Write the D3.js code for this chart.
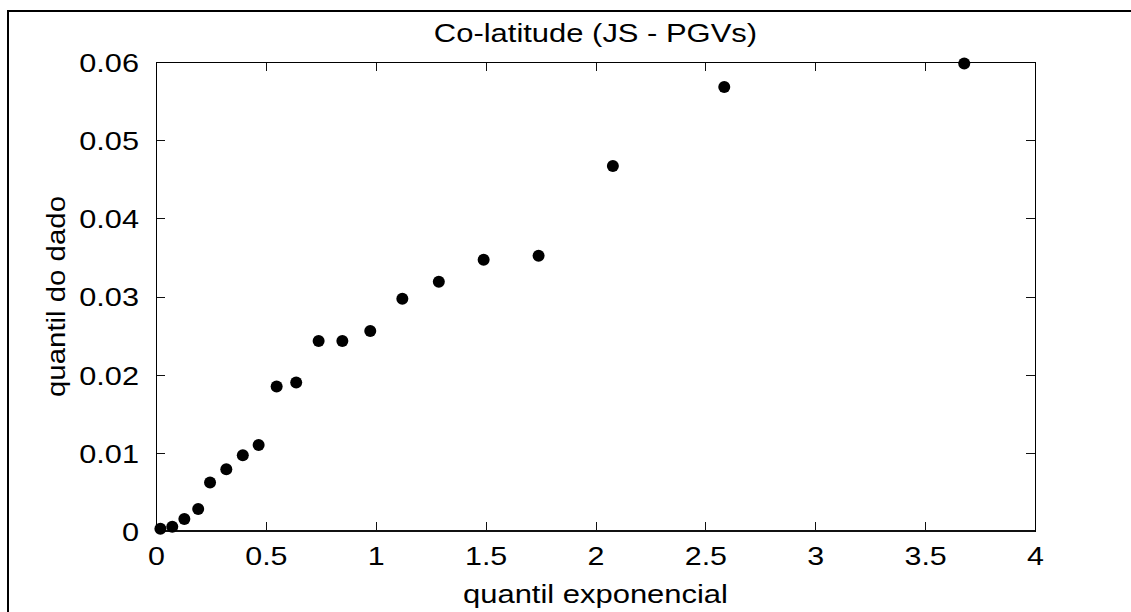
<!DOCTYPE html>
<html>
<head>
<meta charset="utf-8">
<script src="https://cdn.jsdelivr.net/npm/d3@7"></script>
<style>
  body { margin: 0; background: #fff; }
  svg { display: block; }
  text { font-family: "Liberation Sans", Arial, Helvetica, sans-serif; fill: #000; }
  .axis path { display: none; }
  .axis line { stroke: #111; shape-rendering: crispEdges; }
</style>
</head>
<body>
<svg class="chart"></svg>
<script>
// exponential quantile (x) vs data quantile (y)
var qExp = [0.020, 0.074, 0.129, 0.192, 0.246, 0.320, 0.395, 0.467, 0.549, 0.638,
            0.740, 0.848, 0.975, 1.121, 1.287, 1.491, 1.741, 2.079, 2.586, 3.678];
var qData = [0.0003, 0.00055, 0.00154, 0.0028, 0.0062, 0.0079, 0.0097, 0.0110, 0.0185, 0.0190,
             0.0243, 0.0243, 0.0256, 0.0297, 0.0319, 0.0347, 0.0352, 0.0467, 0.0568, 0.0598];
var xTicks = [0, 0.5, 1, 1.5, 2, 2.5, 3, 3.5, 4];
var yTicks = [0, 0.01, 0.02, 0.03, 0.04, 0.05, 0.06];

var W = 1131, H = 612;
var margin = { top: 62, left: 156, right: 96, bottom: 81 },
    width = W - margin.left - margin.right,
    height = H - margin.top - margin.bottom;

var svg = d3.select(".chart").attr("width", W).attr("height", H);

// figure frame (runs off the right and bottom edge)
svg.append("rect")
    .attr("x", 8).attr("y", 11)
    .attr("width", W + 20).attr("height", H + 20)
    .attr("fill", "none").attr("stroke", "#000").attr("stroke-width", 2);

var g = svg.append("g").attr("transform", "translate(" + margin.left + "," + margin.top + ")");

var x = d3.scaleLinear().domain([0, 4]).range([0, width]);
var y = d3.scaleLinear().domain([0, 0.06]).range([height, 0]);

var tick = 9;

// bottom / left with labels, top / right ticks only
var xb = g.append("g").attr("class", "axis")
    .attr("transform", "translate(0," + height + ")")
    .call(d3.axisBottom(x).tickValues(xTicks).tickSize(-tick).tickPadding(16).tickFormat(d3.format("")));
g.append("g").attr("class", "axis")
    .call(d3.axisTop(x).tickValues(xTicks).tickSize(-tick).tickFormat(""));
var yl = g.append("g").attr("class", "axis")
    .call(d3.axisLeft(y).tickValues(yTicks).tickSize(-tick).tickPadding(17).tickFormat(d3.format("")));
g.append("g").attr("class", "axis")
    .attr("transform", "translate(" + width + ",0)")
    .call(d3.axisRight(y).tickValues(yTicks).tickSize(-tick).tickFormat(""));

xb.selectAll("text").style("font-size", "26px").attr("dy", "0.71em");
yl.selectAll("text").style("font-size", "26px").attr("dy", "0.36em");

// axes box
g.append("rect")
    .attr("width", width).attr("height", height)
    .attr("fill", "none").attr("stroke", "#000").attr("stroke-width", 1)
    .attr("shape-rendering", "crispEdges");
g.append("line")
    .attr("x1", 0).attr("x2", width).attr("y1", height).attr("y2", height)
    .attr("stroke", "#111").attr("stroke-width", 2);

// points
g.selectAll("circle.pt").data(qExp)
  .enter().append("circle")
    .attr("class", "pt")
    .attr("cx", d => x(d))
    .attr("cy", (d, i) => y(qData[i]))
    .attr("r", 6)
    .attr("fill", "#000");

// titles
var title = svg.append("text")
    .attr("x", margin.left + width / 2).attr("y", 42)
    .attr("text-anchor", "middle").style("font-size", "26px")
    .text("Co-latitude (JS - PGVs)");

var xlab = svg.append("text")
    .attr("x", margin.left + width / 2).attr("y", 603)
    .attr("text-anchor", "middle").style("font-size", "26px")
    .text("quantil exponencial");

var ylab = svg.append("text")
    .attr("transform", "translate(65," + (margin.top + height / 2) + ") rotate(-90)")
    .attr("text-anchor", "middle").style("font-size", "26px")
    .text("quantil do dado");

// the original rendering spreads glyphs wider than the font metrics
function stretch(sel, f) {
    sel.each(function () {
        var len = this.getComputedTextLength();
        d3.select(this).attr("textLength", len * f).attr("lengthAdjust", "spacingAndGlyphs");
    });
}
stretch(xb.selectAll("text"), 1.17);
stretch(yl.selectAll("text"), 1.18);
stretch(title, 1.19);
stretch(xlab, 1.19);
stretch(ylab, 1.13);
</script>
</body>
</html>
